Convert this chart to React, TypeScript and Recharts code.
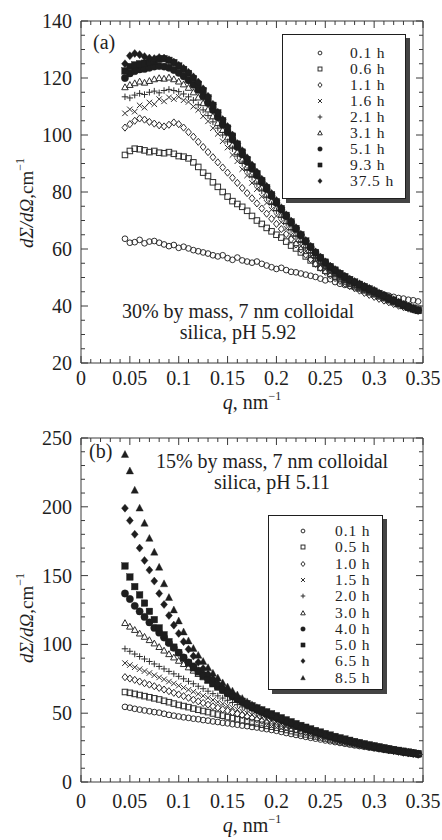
import React from "react";
import { ScatterChart, Scatter, XAxis, YAxis, ReferenceArea, Legend } from "recharts";

const FONT = "'Liberation Serif', 'Times New Roman', serif";
const INK = "#1e1e1e";
const AXIS = "#3a3a3a";

// q grid shared by both panels, nm^-1
const qValues = [
  0.045, 0.05, 0.055, 0.06, 0.065, 0.07, 0.075, 0.08, 0.085, 0.09,
  0.095, 0.1, 0.105, 0.11, 0.115, 0.12, 0.125, 0.13, 0.135, 0.14,
  0.145, 0.15, 0.155, 0.16, 0.165, 0.17, 0.175, 0.18, 0.185, 0.19,
  0.195, 0.2, 0.205, 0.21, 0.215, 0.22, 0.225, 0.23, 0.235, 0.24,
  0.245, 0.25, 0.255, 0.26, 0.265, 0.27, 0.275, 0.28, 0.285, 0.29,
  0.295, 0.3, 0.305, 0.31, 0.315, 0.32, 0.325, 0.33, 0.335, 0.34,
  0.345,
];

// ---- panel (a): 30% by mass, pH 5.92 ----
const a01 = [
  63.6, 62.2, 62.4, 63.2, 62.0, 62.6, 62.8, 62.2, 61.6, 61.0,
  61.4, 60.4, 60.8, 60.2, 59.6, 59.2, 58.8, 58.4, 57.8, 57.4,
  57.8, 56.8, 56.2, 57.0, 56.0, 55.6, 55.2, 55.6, 54.8, 54.2,
  53.6, 53.0, 53.4, 52.6, 52.0, 51.8, 51.4, 51.0, 50.6, 50.2,
  49.6, 49.0, 49.4, 48.4, 47.8, 47.4, 47.0, 46.6, 46.2, 45.8,
  45.2, 44.8, 44.4, 44.0, 43.6, 43.2, 42.8, 42.6, 42.2, 42.0,
  41.6,
];
const a06 = [
  93.0, 94.4, 95.2, 95.0, 94.6, 94.0, 94.4, 93.8, 93.6, 94.0,
  93.4, 92.6, 92.4, 91.8, 90.4, 88.8, 86.8, 85.6, 83.4, 81.8,
  80.0, 78.4, 76.8, 75.8, 74.8, 73.4, 71.6, 70.0, 68.8, 67.4,
  66.2, 65.0, 64.0, 62.6, 61.2, 60.2, 58.8, 57.4, 56.0, 54.8,
  53.4, 52.4, 51.4, 50.4, 49.4, 48.6, 47.8, 47.0, 46.2, 45.5,
  44.8, 44.1, 43.4, 42.8, 42.2, 41.6, 41.0, 40.4, 39.9, 39.4,
  39.0,
];
const a11 = [
  102.6, 103.8, 105.0, 105.8, 105.4, 104.6, 104.0, 103.4, 103.0, 103.6,
  104.4, 103.8, 102.6, 101.0, 99.4, 97.6, 95.8, 94.0, 92.2, 90.4,
  88.6, 86.8, 85.0, 83.2, 81.4, 79.6, 77.8, 76.0, 74.2, 72.4,
  70.6, 68.8, 67.0, 65.2, 63.4, 61.6, 59.8, 58.0, 56.4, 54.8,
  53.4, 52.0, 50.8, 49.8, 48.8, 47.9, 47.0, 46.2, 45.4, 44.6,
  43.9, 43.2, 42.5, 41.9, 41.3, 40.7, 40.1, 39.6, 39.1, 38.7,
  38.3,
];
const a16 = [
  107.6, 109.0, 108.2, 110.4, 109.6, 111.4, 110.8, 112.6, 111.8, 113.2,
  112.6, 113.4, 112.2, 111.6, 110.0, 108.8, 106.6, 104.8, 102.4, 100.4,
  97.8, 95.6, 93.0, 90.8, 88.0, 85.8, 83.2, 81.0, 78.4, 76.2,
  73.8, 71.6, 69.4, 67.2, 65.0, 63.0, 61.0, 59.2, 57.4, 55.8,
  54.2, 52.8, 51.6, 50.4, 49.4, 48.4, 47.6, 46.8, 46.0, 45.3,
  44.6, 43.9, 43.2, 42.5, 41.8, 41.2, 40.6, 40.0, 39.4, 38.9,
  38.5,
];
const a21 = [
  113.4, 113.0, 114.0, 114.6, 114.2, 115.0, 115.4, 114.8, 115.6, 116.0,
  115.6, 115.2, 114.4, 113.4, 112.2, 110.6, 108.8, 106.8, 104.6, 102.4,
  100.0, 97.6, 95.2, 92.6, 90.0, 87.6, 85.2, 82.8, 80.4, 78.0,
  75.6, 73.4, 71.2, 69.0, 66.8, 64.6, 62.6, 60.6, 58.8, 57.0,
  55.4, 53.8, 52.4, 51.2, 50.0, 49.0, 48.0, 47.2, 46.4, 45.6,
  44.9, 44.2, 43.4, 42.7, 42.0, 41.3, 40.6, 40.0, 39.4, 38.9,
  38.4,
];
const a31 = [
  116.8, 117.6, 118.2, 118.8, 118.4, 119.0, 119.6, 120.0, 119.8, 120.2,
  119.6, 118.8, 117.8, 116.6, 115.0, 113.2, 111.2, 109.0, 106.6, 104.2,
  101.8, 99.2, 96.6, 94.0, 91.4, 88.8, 86.4, 84.0, 81.6, 79.2,
  76.8, 74.4, 72.0, 69.8, 67.6, 65.4, 63.2, 61.2, 59.4, 57.6,
  55.8, 54.2, 52.8, 51.6, 50.4, 49.4, 48.4, 47.5, 46.7, 45.9,
  45.1, 44.3, 43.5, 42.8, 42.0, 41.3, 40.6, 40.0, 39.4, 38.9,
  38.4,
];
const a51 = [
  120.0, 121.6, 122.4, 123.0, 123.2, 123.6, 124.0, 124.2, 124.0, 123.6,
  122.8, 121.8, 120.6, 119.2, 117.6, 115.8, 113.6, 111.2, 108.8, 106.2,
  103.6, 101.0, 98.4, 95.8, 93.2, 90.6, 88.2, 85.8, 83.4, 81.0,
  78.6, 76.2, 73.8, 71.5, 69.2, 67.0, 64.8, 62.6, 60.6, 58.6,
  56.8, 55.2, 53.7, 52.4, 51.2, 50.1, 49.1, 48.2, 47.4, 46.6,
  45.8, 45.0, 44.2, 43.4, 42.6, 41.8, 41.0, 40.3, 39.6, 39.0,
  38.5,
];
const a93 = [
  122.5, 124.0, 124.6, 125.0, 125.2, 125.6, 126.0, 126.6, 126.8, 126.2,
  125.4, 124.2, 123.0, 121.6, 119.8, 117.8, 115.6, 113.0, 110.4, 107.8,
  105.0, 102.4, 99.6, 96.8, 94.0, 91.4, 88.8, 86.4, 84.0, 81.5,
  79.0, 76.6, 74.2, 71.8, 69.5, 67.2, 65.0, 62.8, 60.8, 58.8,
  57.0, 55.4, 53.8, 52.6, 51.4, 50.3, 49.3, 48.4, 47.6, 46.8,
  46.0, 45.2, 44.4, 43.6, 42.8, 42.0, 41.2, 40.4, 39.6, 39.0,
  38.4,
];
const a375 = [
  125.0, 127.8, 128.6, 128.2, 127.5, 127.0, 126.8, 127.2, 127.0, 126.4,
  125.6, 124.5, 123.4, 122.0, 120.4, 118.6, 116.2, 113.6, 110.8, 108.0,
  105.4, 103.0, 100.0, 97.0, 94.5, 92.0, 89.5, 87.0, 84.5, 82.0,
  79.5, 77.0, 74.5, 72.0, 69.8, 67.5, 65.2, 63.0, 61.0, 59.0,
  57.2, 55.5, 54.0, 52.8, 51.6, 50.5, 49.5, 48.6, 47.8, 47.0,
  46.2, 45.5, 44.6, 43.8, 43.0, 42.2, 41.4, 40.6, 39.8, 39.2,
  38.6,
];
const labelsA = ["0.1 h", "0.6 h", "1.1 h", "1.6 h", "2.1 h", "3.1 h", "5.1 h", "9.3 h", "37.5 h"];

// ---- panel (b): 15% by mass, pH 5.11 ----
const b01 = [
  54.6, 54.0, 53.2, 52.6, 52.0, 51.4, 50.8, 50.4, 49.6, 48.8,
  48.2, 47.6, 47.0, 46.6, 46.0, 45.6, 45.0, 44.6, 44.0, 43.6,
  43.0, 42.6, 42.0, 41.6, 41.0, 40.6, 40.0, 39.6, 38.9, 38.4,
  37.8, 37.2, 36.4, 35.6, 34.9, 34.2, 33.5, 32.8, 32.1, 31.5,
  30.9, 30.2, 29.6, 29.0, 28.4, 27.8, 27.2, 26.6, 26.1, 25.6,
  25.0, 24.5, 24.0, 23.5, 23.0, 22.5, 22.0, 21.5, 21.0, 20.6,
  20.2,
];
const b05 = [
  65.4, 64.8, 64.0, 63.2, 62.4, 61.6, 60.8, 60.0, 59.0, 58.0,
  57.0, 56.0, 55.2, 54.4, 53.4, 52.5, 51.6, 50.8, 49.8, 49.0,
  48.2, 47.2, 46.4, 45.6, 44.8, 44.0, 43.2, 42.5, 41.6, 40.8,
  40.2, 39.5, 38.6, 37.8, 37.0, 36.2, 35.4, 34.6, 33.8, 33.1,
  32.4, 31.6, 30.9, 30.2, 29.5, 28.8, 28.1, 27.4, 26.8, 26.2,
  25.6, 25.0, 24.4, 23.8, 23.2, 22.7, 22.2, 21.6, 21.1, 20.6,
  20.1,
];
const b10 = [
  76.2, 75.2, 74.2, 73.0, 71.8, 70.8, 69.6, 68.4, 67.2, 66.0,
  64.8, 63.6, 62.4, 61.2, 59.8, 58.6, 57.4, 56.2, 55.0, 54.0,
  52.8, 51.8, 50.6, 49.6, 48.6, 47.6, 46.6, 45.6, 44.6, 43.6,
  42.8, 42.0, 41.0, 40.0, 39.0, 38.0, 37.0, 36.1, 35.2, 34.3,
  33.4, 32.6, 31.8, 31.0, 30.2, 29.4, 28.7, 28.0, 27.3, 26.6,
  26.0, 25.3, 24.7, 24.1, 23.5, 22.9, 22.4, 21.8, 21.3, 20.8,
  20.3,
];
const b15 = [
  86.4, 85.0, 83.4, 82.0, 80.6, 79.2, 77.6, 76.0, 74.6, 73.0,
  71.6, 70.0, 68.6, 67.0, 65.6, 64.0, 62.6, 61.2, 59.6, 58.2,
  56.8, 55.4, 54.0, 52.6, 51.2, 50.0, 48.8, 47.6, 46.4, 45.2,
  44.2, 43.2, 42.0, 40.9, 39.8, 38.8, 37.8, 36.8, 35.8, 34.9,
  34.0, 33.1, 32.3, 31.5, 30.7, 29.9, 29.1, 28.4, 27.7, 27.0,
  26.3, 25.7, 25.0, 24.4, 23.8, 23.2, 22.6, 22.0, 21.5, 21.0,
  20.5,
];
const b20 = [
  96.8, 95.0, 93.0, 91.2, 89.4, 87.6, 85.8, 84.0, 82.2, 80.4,
  78.6, 76.8, 75.0, 73.2, 71.4, 69.6, 67.8, 66.0, 64.2, 62.6,
  61.0, 59.4, 57.8, 56.2, 54.6, 53.2, 51.8, 50.4, 49.0, 47.6,
  46.4, 45.2, 43.9, 42.7, 41.5, 40.3, 39.2, 38.1, 37.0, 36.0,
  35.0, 34.0, 33.1, 32.2, 31.3, 30.4, 29.6, 28.8, 28.0, 27.3,
  26.6, 25.9, 25.2, 24.6, 24.0, 23.4, 22.8, 22.2, 21.6, 21.1,
  20.6,
];
const b30 = [
  115.6, 113.0, 110.6, 108.0, 105.6, 103.2, 100.8, 98.2, 95.6, 93.0,
  90.6, 88.2, 85.8, 83.4, 81.0, 78.6, 76.2, 74.0, 71.8, 69.6,
  67.6, 65.6, 63.4, 61.2, 59.2, 57.2, 55.3, 53.5, 51.8, 50.1,
  48.5, 47.0, 45.5, 44.1, 42.7, 41.4, 40.1, 38.9, 37.7, 36.6,
  35.5, 34.5, 33.5, 32.5, 31.6, 30.7, 29.8, 29.0, 28.2, 27.4,
  26.7, 26.0, 25.3, 24.7, 24.1, 23.5, 22.9, 22.3, 21.8, 21.3,
  20.8,
];
const b40 = [
  137.0, 133.0, 128.0, 124.0, 120.0, 116.0, 112.0, 108.5, 105.0, 101.0,
  97.5, 94.0, 90.5, 87.0, 84.0, 81.0, 78.0, 75.0, 72.2, 69.5,
  67.0, 64.5, 62.2, 60.0, 58.0, 56.0, 54.2, 52.5, 50.9, 49.4,
  48.0, 46.8, 45.3, 43.9, 42.5, 41.2, 39.9, 38.7, 37.5, 36.4,
  35.3, 34.3, 33.3, 32.3, 31.4, 30.5, 29.6, 28.8, 28.0, 27.2,
  26.5, 25.8, 25.1, 24.4, 23.8, 23.2, 22.6, 22.0, 21.4, 20.9,
  20.4,
];
const b50 = [
  157.0, 149.0, 142.0, 136.0, 130.0, 124.0, 118.0, 112.0, 107.0, 102.0,
  98.0, 94.0, 90.0, 86.5, 83.0, 80.0, 77.0, 74.0, 71.4, 69.0,
  66.6, 64.4, 62.4, 60.5, 58.7, 57.0, 55.4, 53.9, 52.4, 51.0,
  49.6, 48.2, 46.7, 45.2, 43.8, 42.4, 41.1, 39.8, 38.6, 37.4,
  36.3, 35.2, 34.1, 33.1, 32.1, 31.2, 30.3, 29.4, 28.6, 27.8,
  27.0, 26.3, 25.6, 24.9, 24.2, 23.6, 23.0, 22.4, 21.8, 21.2,
  20.7,
];
const b65 = [
  199.0, 190.0, 180.0, 170.0, 161.0, 154.0, 146.0, 137.0, 129.0, 121.0,
  114.0, 108.0, 102.0, 96.5, 91.5, 87.0, 82.5, 78.5, 75.0, 71.5,
  68.5, 65.5, 63.0, 60.5, 58.2, 56.0, 54.0, 52.2, 50.6, 49.0,
  47.5, 46.2, 44.8, 43.4, 42.0, 40.7, 39.4, 38.2, 37.0, 35.9,
  34.8, 33.7, 32.7, 31.7, 30.8, 29.9, 29.0, 28.2, 27.4, 26.6,
  25.9, 25.2, 24.5, 23.9, 23.3, 22.7, 22.1, 21.5, 21.0, 20.5,
  20.0,
];
const b85 = [
  238.0, 226.0, 212.0, 199.0, 188.0, 177.0, 167.0, 156.0, 144.0, 134.0,
  125.0, 117.0, 109.0, 102.5, 97.0, 92.0, 87.5, 83.0, 79.0, 75.5,
  72.0, 69.0, 66.0, 63.2, 60.6, 58.2, 56.0, 54.0, 52.2, 50.4,
  48.8, 47.2, 45.7, 44.2, 42.8, 41.4, 40.1, 38.8, 37.6, 36.4,
  35.3, 34.2, 33.2, 32.2, 31.3, 30.4, 29.5, 28.7, 27.9, 27.1,
  26.4, 25.7, 25.0, 24.3, 23.7, 23.1, 22.5, 21.9, 21.4, 20.9,
  20.4,
];
const labelsB = ["0.1 h", "0.5 h", "1.0 h", "1.5 h", "2.0 h", "3.0 h", "4.0 h", "5.0 h", "6.5 h", "8.5 h"];

// axis ticks
const xTicks = [0, 0.05, 0.1, 0.15, 0.2, 0.25, 0.3, 0.35];
const yTicksA = [20, 40, 60, 80, 100, 120, 140];
const yTicksB = [0, 50, 100, 150, 200, 250];
const xMinor = Array.from({ length: 36 }, (_, i) => i / 100);
const yMinorA = Array.from({ length: 25 }, (_, i) => 20 + i * 5);
const yMinorB = Array.from({ length: 26 }, (_, i) => i * 10);

type Kind = "circle" | "square" | "diamond" | "x" | "plus" | "triangle" | "dot" | "block" | "gem" | "wedge";
const kindsA: Kind[] = ["circle", "square", "diamond", "x", "plus", "triangle", "dot", "block", "gem"];
const kindsB: Kind[] = ["circle", "square", "diamond", "x", "plus", "triangle", "dot", "block", "gem", "wedge"];
const filled = (k: Kind) => k === "dot" || k === "block" || k === "gem" || k === "wedge";

const toPoints = (vals: number[]) => qValues.map((q, i) => ({ q, v: vals[i] }));

function Marker({ kind, cx, cy, s }: { kind: Kind; cx: number; cy: number; s: number }) {
  const open = { fill: "none", stroke: "#2e2e2e", strokeWidth: 1 };
  const solid = { fill: INK, stroke: INK, strokeWidth: 0.4 };
  const h = s / 2;
  switch (kind) {
    case "circle":
      return <circle cx={cx} cy={cy} r={h - 0.4} {...open} />;
    case "square":
      return <rect x={cx - h * 0.85} y={cy - h * 0.85} width={s * 0.85} height={s * 0.85} {...open} />;
    case "diamond":
      return <path d={`M${cx},${cy - h * 1.1}L${cx + h * 0.9},${cy}L${cx},${cy + h * 1.1}L${cx - h * 0.9},${cy}Z`} {...open} />;
    case "x":
      return <path d={`M${cx - h * 0.85},${cy - h * 0.85}L${cx + h * 0.85},${cy + h * 0.85}M${cx - h * 0.85},${cy + h * 0.85}L${cx + h * 0.85},${cy - h * 0.85}`} {...open} />;
    case "plus":
      return <path d={`M${cx - h},${cy}L${cx + h},${cy}M${cx},${cy - h}L${cx},${cy + h}`} {...open} />;
    case "triangle":
      return <path d={`M${cx},${cy - h}L${cx + h},${cy + h * 0.8}L${cx - h},${cy + h * 0.8}Z`} {...open} />;
    case "dot":
      return <circle cx={cx} cy={cy} r={h} {...solid} />;
    case "block":
      return <rect x={cx - h * 0.9} y={cy - h * 0.9} width={s * 0.9} height={s * 0.9} {...solid} />;
    case "gem":
      return <path d={`M${cx},${cy - h * 1.1}L${cx + h * 0.95},${cy}L${cx},${cy + h * 1.1}L${cx - h * 0.95},${cy}Z`} {...solid} />;
    case "wedge":
    default:
      return <path d={`M${cx},${cy - h * 1.1}L${cx + h},${cy + h * 0.8}L${cx - h},${cy + h * 0.8}Z`} {...solid} />;
  }
}

const fmt = (v: number) => String(Number(v.toFixed(3)));
const isIn = (arr: number[], v: number) => arr.some((t) => Math.abs(t - v) < 1e-9);

function makeXTick(plotTop: number, labelDy: number) {
  return (p: any) => {
    const v = p.payload.value;
    const major = isIn(xTicks, v);
    const len = major ? 7 : 4;
    return (
      <g>
        <line x1={p.x} x2={p.x} y1={p.y} y2={p.y - len} stroke={AXIS} />
        <line x1={p.x} x2={p.x} y1={plotTop} y2={plotTop + len} stroke={AXIS} />
        {major && (
          <text x={p.x} y={p.y + labelDy} textAnchor="middle" fontFamily={FONT} fontSize={20} fill={INK}>
            {fmt(v)}
          </text>
        )}
      </g>
    );
  };
}

function makeYTick(majors: number[], plotRight: number) {
  return (p: any) => {
    const v = p.payload.value;
    const major = isIn(majors, v);
    const len = major ? 7 : 4;
    return (
      <g>
        <line x1={p.x} x2={p.x + len} y1={p.y} y2={p.y} stroke={AXIS} />
        <line x1={plotRight} x2={plotRight - len} y1={p.y} y2={p.y} stroke={AXIS} />
        {major && (
          <text x={p.x - 9} y={p.y + 7} textAnchor="end" fontFamily={FONT} fontSize={20} fill={INK}>
            {fmt(v)}
          </text>
        )}
      </g>
    );
  };
}

function LegendBox({ labels, kinds, w, h, firstRow, gap, symX, textX }: any) {
  return (
    <div style={{ position: "relative", width: w, height: h, boxSizing: "border-box", border: `1.5px solid ${INK}`, background: "#fff", boxShadow: "4px 4px 0 #444" }}>
      {labels.map((lab: string, i: number) => {
        const cy = firstRow + i * gap;
        return (
          <React.Fragment key={lab}>
            <svg width={10} height={10} style={{ position: "absolute", left: symX - 5, top: cy - 5 }}>
              <Marker kind={kinds[i]} cx={5} cy={5} s={4.6} />
            </svg>
            <span style={{ position: "absolute", left: textX, top: cy - 8, height: 16, lineHeight: "16px", fontSize: 15.5, letterSpacing: 0.9, fontFamily: FONT, color: INK, whiteSpace: "nowrap" }}>
              {lab}
            </span>
          </React.Fragment>
        );
      })}
    </div>
  );
}

function Panel(props: any) {
  const { series, labels, kinds, yDomain, yMajor, yMinor, margin, plotTop, xLabelDy, legend, size } = props;
  const plotRight = 423;
  return (
    <ScatterChart width={442} height={420} margin={margin}>
      <XAxis type="number" dataKey="q" domain={[0, 0.35]} ticks={xMinor} interval={0} height={30} tickSize={0} tickMargin={0} axisLine={false} tickLine={false} tick={makeXTick(plotTop, xLabelDy)} />
      <YAxis type="number" dataKey="v" domain={yDomain} ticks={yMinor} interval={0} width={60} tickSize={0} tickMargin={0} axisLine={false} tickLine={false} tick={makeYTick(yMajor, plotRight)} />
      <ReferenceArea x1={0} x2={0.35} y1={yDomain[0]} y2={yDomain[1]} fill="none" stroke={AXIS} strokeWidth={1} />
      {series.map((vals: number[], i: number) => (
        <Scatter
          key={labels[i]}
          name={labels[i]}
          data={toPoints(vals)}
          isAnimationActive={false}
          shape={(p: any) => <Marker kind={kinds[i]} cx={p.cx} cy={p.cy} s={filled(kinds[i]) ? size + 0.8 : size} />}
        />
      ))}
      <Legend
        layout="vertical"
        align="center"
        verticalAlign="middle"
        wrapperStyle={{ left: legend.left, top: legend.top, width: legend.w, height: legend.h }}
        content={() => <LegendBox labels={labels} kinds={kinds} {...legend} />}
      />
    </ScatterChart>
  );
}

function Titles({ tag, line1, line2, cx, base, tagPos, xBase, yMid }: any) {
  const t = { fontFamily: FONT, fill: INK };
  return (
    <svg width={442} height={420} style={{ position: "absolute", left: 0, top: 0, pointerEvents: "none" }}>
      <text x={tagPos[0]} y={tagPos[1]} fontSize={20} {...t}>{tag}</text>
      <text x={cx} y={base} textAnchor="middle" fontSize={20} {...t}>{line1}</text>
      <text x={cx} y={base + 21} textAnchor="middle" fontSize={20} {...t}>{line2}</text>
      <text x={252} y={xBase} textAnchor="middle" fontSize={20} {...t}>
        <tspan fontStyle="italic">q</tspan>, nm<tspan dy={-9} fontSize={12}>−1</tspan>
      </text>
      <text x={33} y={yMid} textAnchor="middle" fontSize={19} transform={`rotate(-90 33 ${yMid})`} {...t}>
        <tspan fontStyle="italic">dΣ/dΩ</tspan>,cm<tspan dy={-9} fontSize={12}>−1</tspan>
      </text>
    </svg>
  );
}

export default function App() {
  return (
    <div style={{ position: "absolute", left: 0, top: 0, width: 442, height: 840, background: "#fff" }}>
      <div style={{ position: "absolute", left: 0, top: 0, width: 442, height: 420 }}>
        <Panel
          series={[a01, a06, a11, a16, a21, a31, a51, a93, a375]}
          labels={labelsA}
          kinds={kindsA}
          yDomain={[20, 140]}
          yMajor={yTicksA}
          yMinor={yMinorA}
          margin={{ top: 21, right: 19, bottom: 27, left: 21 }}
          plotTop={21}
          xLabelDy={22}
          size={6.5}
          legend={{ left: 282, top: 34, w: 124, h: 165, firstRow: 18, gap: 16, symX: 37, textX: 67 }}
        />
        <Titles tag="(a)" line1="30% by mass, 7 nm colloidal" line2="silica, pH 5.92" cx={238} base={318} tagPos={[93, 49]} xBase={409} yMid={203} />
      </div>
      <div style={{ position: "absolute", left: 0, top: 420, width: 442, height: 420 }}>
        <Panel
          series={[b01, b05, b10, b15, b20, b30, b40, b50, b65, b85]}
          labels={labelsB}
          kinds={kindsB}
          yDomain={[0, 250]}
          yMajor={yTicksB}
          yMinor={yMinorB}
          margin={{ top: 18, right: 19, bottom: 28, left: 21 }}
          plotTop={18}
          xLabelDy={26}
          size={6.5}
          legend={{ left: 268, top: 95, w: 115, h: 175, firstRow: 15, gap: 16.3, symX: 34, textX: 66 }}
        />
        <Titles tag="(b)" line1="15% by mass, 7 nm colloidal" line2="silica, pH 5.11" cx={272} base={48} tagPos={[89, 38]} xBase={412} yMid={198} />
      </div>
    </div>
  );
}
